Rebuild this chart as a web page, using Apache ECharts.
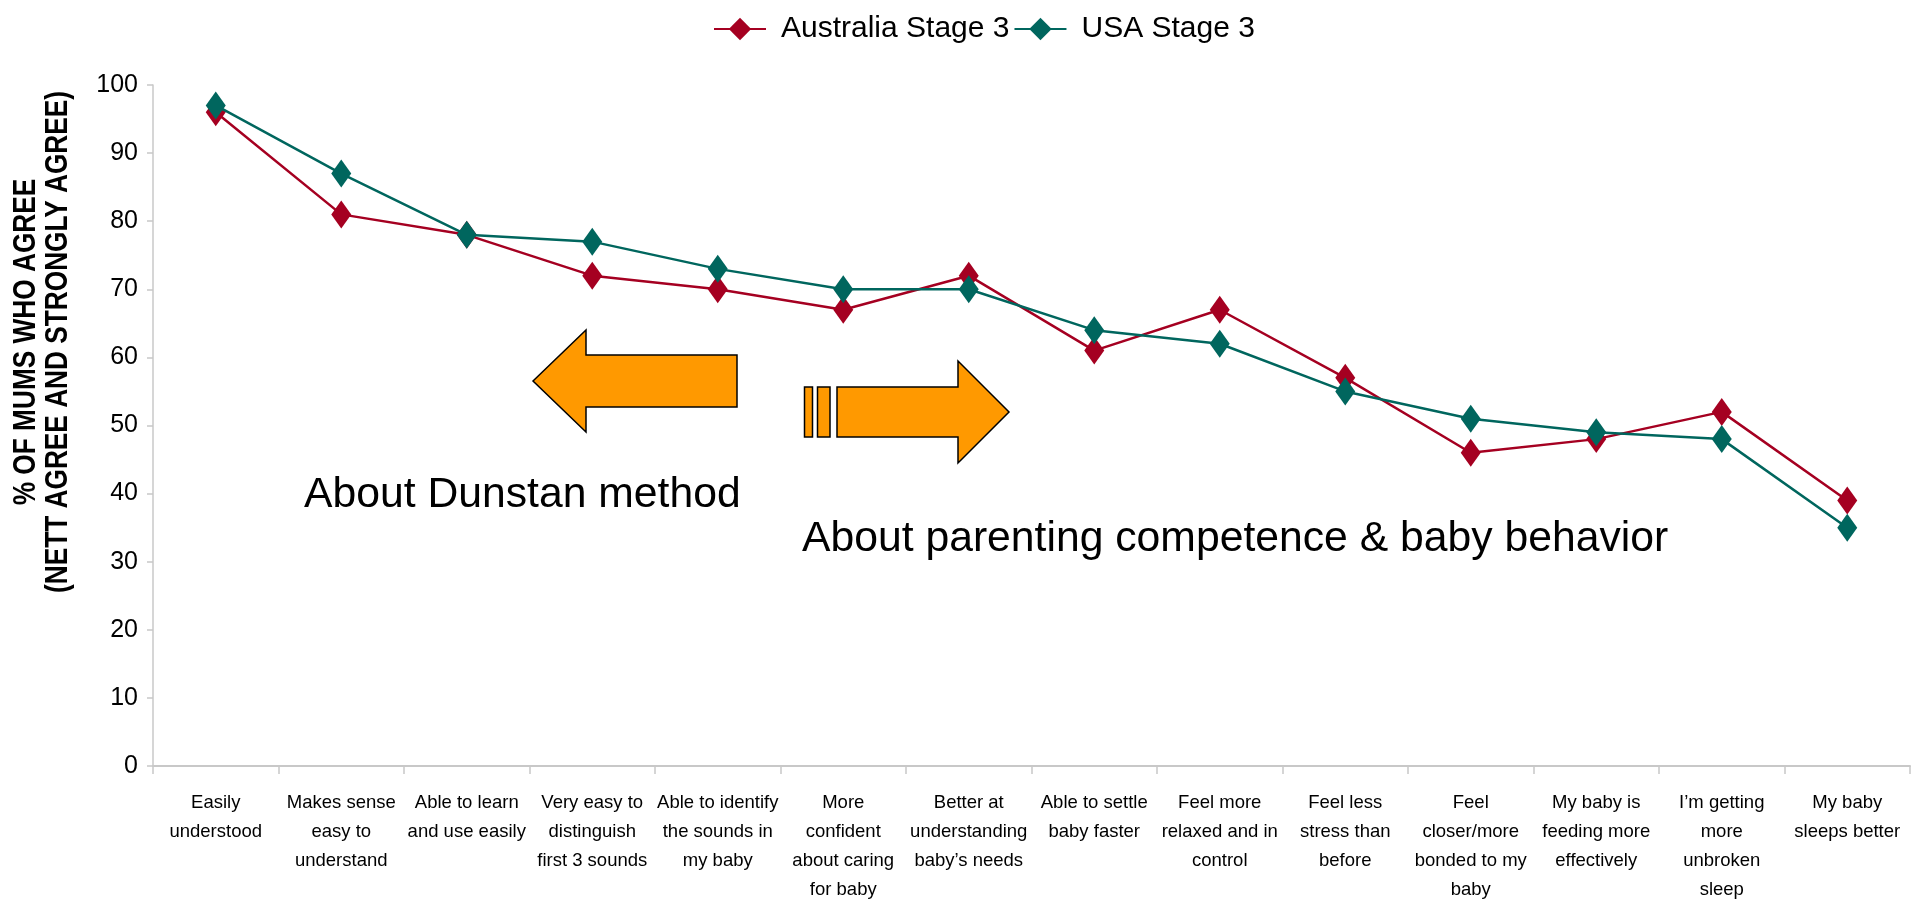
<!DOCTYPE html>
<html>
<head>
<meta charset="utf-8">
<script src="https://cdn.jsdelivr.net/npm/echarts@6/dist/echarts.min.js"></script>
<style>
html,body{margin:0;padding:0;background:#fff;}
#chart{width:1921px;height:900px;}
</style>
</head>
<body>
<div id="chart"></div>
<script>
var categories = [
  "Easily\nunderstood",
  "Makes sense\neasy to\nunderstand",
  "Able to learn\nand use easily",
  "Very easy to\ndistinguish\nfirst 3 sounds",
  "Able to identify\nthe sounds in\nmy baby",
  "More\nconfident\nabout caring\nfor baby",
  "Better at\nunderstanding\nbaby\u2019s needs",
  "Able to settle\nbaby faster",
  "Feel more\nrelaxed and in\ncontrol",
  "Feel less\nstress than\nbefore",
  "Feel\ncloser/more\nbonded to my\nbaby",
  "My baby is\nfeeding more\neffectively",
  "I\u2019m getting\nmore\nunbroken\nsleep",
  "My baby\nsleeps better"
];
var australiaStage3 = [96, 81, 78, 72, 70, 67, 72, 61, 67, 57, 46, 48, 52, 39];
var usaStage3 = [97, 87, 78, 77, 73, 70, 70, 64, 62, 55, 51, 49, 48, 35];
var seriesNames = ["Australia Stage 3", "USA Stage 3"];
var yTitle = "% OF MUMS WHO AGREE\n(NETT AGREE AND STRONGLY AGREE)";
var noteLeft = "About Dunstan method";
var noteRight = "About parenting competence & baby behavior";

var FONT = "'Liberation Sans', Arial, sans-serif";
var RED = "#A50021";
var TEAL = "#00665E";
var AXIS = "#C8C8C8";

var chart = echarts.init(document.getElementById('chart'), null, {renderer: 'canvas'});

var arrowStyle = {fill: '#FF9900', stroke: '#000', lineWidth: 1.5};

chart.setOption({
  animation: false,
  backgroundColor: '#fff',
  legend: {
    left: 708,
    top: 9,
    itemWidth: 52,
    itemHeight: 28,
    itemGap: 4,
    textStyle: {fontFamily: FONT, fontSize: 30, color: '#000', padding: [0, 0, 0, 10]},
    data: seriesNames
  },
  grid: {left: 153, right: 11, top: 85, bottom: 134, containLabel: false, outerBoundsMode: 'none'},
  xAxis: {
    type: 'category',
    data: categories,
    boundaryGap: true,
    axisLine: {lineStyle: {color: AXIS, width: 2}},
    axisTick: {show: true, length: 8, lineStyle: {color: AXIS, width: 1.5}},
    axisLabel: {
      interval: 0,
      margin: 22,
      fontFamily: FONT,
      fontSize: 18.5,
      lineHeight: 29,
      color: '#000',
      align: 'center'
    },
    splitLine: {show: false}
  },
  yAxis: {
    type: 'value',
    min: 0,
    max: 100,
    interval: 10,
    axisLine: {show: true, lineStyle: {color: AXIS, width: 1.5}},
    axisTick: {show: true, length: 6, lineStyle: {color: AXIS, width: 1.5}},
    axisLabel: {margin: 15, fontFamily: FONT, fontSize: 25, color: '#000'},
    splitLine: {show: false}
  },
  series: [
    {
      name: seriesNames[0],
      type: 'line',
      data: australiaStage3,
      symbol: 'diamond',
      symbolSize: [20, 28],
      lineStyle: {color: RED, width: 2.5},
      itemStyle: {color: RED},
      z: 2
    },
    {
      name: seriesNames[1],
      type: 'line',
      data: usaStage3,
      symbol: 'diamond',
      symbolSize: [20, 28],
      lineStyle: {color: TEAL, width: 2.5},
      itemStyle: {color: TEAL},
      z: 3
    }
  ],
  graphic: [
    {
      type: 'text',
      x: 42, y: 342,
      rotation: Math.PI / 2,
      scaleX: 0.82,
      style: {
        text: yTitle,
        font: "bold 32px " + FONT,
        fill: '#000',
        align: 'center',
        verticalAlign: 'middle',
        lineHeight: 32
      }
    },
    {
      type: 'polygon',
      shape: {points: [[533,381],[586,330],[586,355],[737,355],[737,407],[586,407],[586,432]]},
      style: arrowStyle
    },
    {
      type: 'rect',
      shape: {x: 804.5, y: 387, width: 8, height: 50},
      style: arrowStyle
    },
    {
      type: 'rect',
      shape: {x: 817.5, y: 387, width: 12.5, height: 50},
      style: arrowStyle
    },
    {
      type: 'polygon',
      shape: {points: [[837,387],[958,387],[958,361],[1009,412],[958,463],[958,437],[837,437]]},
      style: arrowStyle
    },
    {
      type: 'text',
      x: 304, y: 495,
      style: {text: noteLeft, font: "42.7px " + FONT, fill: '#000', align: 'left', verticalAlign: 'middle'}
    },
    {
      type: 'text',
      x: 802, y: 539,
      style: {text: noteRight, font: "42.7px " + FONT, fill: '#000', align: 'left', verticalAlign: 'middle'}
    }
  ]
});
</script>
</body>
</html>
